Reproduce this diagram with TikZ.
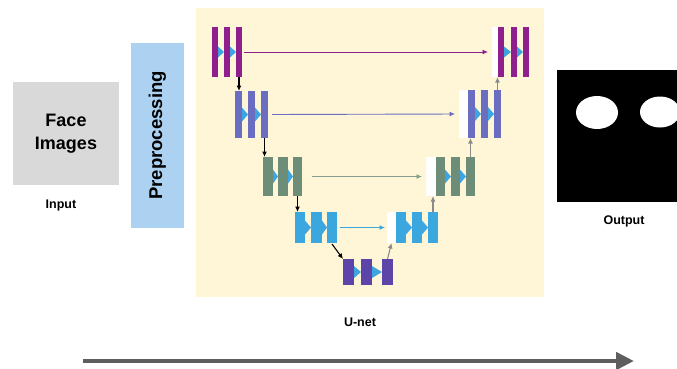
\documentclass[tikz,border=0pt]{standalone}
\usepackage{fontspec}
\setmainfont{Liberation Sans}
\usetikzlibrary{arrows.meta}

\definecolor{bgY}{HTML}{FEF6D6}
\definecolor{cP1}{HTML}{8E1F8C}
\definecolor{cL2}{HTML}{6B6DC0}
\definecolor{cL3}{HTML}{6E8D79}
\definecolor{cL4}{HTML}{3AA8DE}
\definecolor{cL5}{HTML}{5D44A8}
\definecolor{cTri}{HTML}{3FA5E0}
\definecolor{grayBox}{HTML}{D9D9D9}
\definecolor{prepBlue}{HTML}{ADD2F1}
\definecolor{upGray}{HTML}{8A8A8A}
\definecolor{bigArrow}{HTML}{5E5E5E}

\newcommand\mkbar[6]{\node[ubar,fill=#6,minimum width={(#3-#2)*1pt},minimum height={(#5-#4)*1pt}] (#1) at (#2,#4) {};}
\newcommand\mktri[3]{\fill[cTri] ([yshift=#3pt]#1.east) -- (#2.west) -- ([yshift=-#3pt]#1.east) -- cycle;}

\begin{document}
\begin{tikzpicture}[x=1pt,y=-1pt,
  ubar/.style={rectangle,inner sep=0pt,outer sep=0pt,draw=none,anchor=north west},
  skiparrow/.style={-{Latex[length=5.5pt,width=5pt]},line width=0.9pt},
  downarrow/.style={-{Latex[length=5.5pt,width=5pt]},line width=1.1pt,black},
  uparrow/.style={-{Latex[length=5.5pt,width=5pt]},line width=1.1pt,upGray},
  lbl/.style={font=\bfseries\fontsize{12.5}{14}\selectfont}]
\useasboundingbox (0,0) rectangle (677,368);

% U-net background
\node[ubar,fill=bgY,minimum width=348pt,minimum height=289pt] (unetbg) at (196,8) {};

% Input
\node[fill=grayBox,minimum width=106pt,minimum height=103pt,inner sep=0pt,align=center,
  font=\bfseries\fontsize{18}{23}\selectfont] (face) at (66,133.5) {Face\\Images};
\node[lbl] (inlbl) at (61,205) {Input};

% Preprocessing
\node[fill=prepBlue,minimum width=185pt,minimum height=53pt,inner sep=0pt,rotate=90,
  font=\bfseries\fontsize{18.5}{20}\selectfont] (prep) at (157.5,135.5) {Preprocessing};

% Output
\node[fill=black,minimum width=120pt,minimum height=132pt,inner sep=0pt] (outbox) at (617,136) {};
\begin{scope}
\clip (outbox.south west) rectangle (outbox.north east);
\fill[white] (597,112.5) ellipse [x radius=21, y radius=16.5];
\fill[white] (660,112) ellipse [x radius=20, y radius=15.5];
\end{scope}
\node[lbl] (outlbl) at (624,221) {Output};

\node[lbl] (unetlbl) at (360,322) {U-net};

% Level 1
\mkbar{L1a}{212}{218}{27}{77}{cP1}
\mkbar{L1b}{224}{230}{27}{77}{cP1}
\mkbar{L1c}{236}{242}{27}{77}{cP1}
\mktri{L1a}{L1b}{5.5}
\mktri{L1b}{L1c}{5.5}
\mkbar{L1w}{492}{498}{27}{77}{white}
\mkbar{L1r1}{498}{504}{27}{77}{cP1}
\mkbar{L1r2}{511}{517}{27}{77}{cP1}
\mkbar{L1r3}{523}{529}{27}{77}{cP1}
\mktri{L1r1}{L1r2}{5.5}
\mktri{L1r2}{L1r3}{5.5}

% Level 2
\mkbar{L2a}{235}{242}{91}{138}{cL2}
\mkbar{L2b}{248}{255}{91}{138}{cL2}
\mkbar{L2c}{261}{268}{91}{138}{cL2}
\mktri{L2a}{L2b}{7}
\mktri{L2b}{L2c}{7}
\mkbar{L2w}{459}{468}{90}{138}{white}
\mkbar{L2r1}{468}{475}{90}{138}{cL2}
\mkbar{L2r2}{481}{488}{90}{138}{cL2}
\mkbar{L2r3}{494}{501}{90}{138}{cL2}
\mktri{L2r1}{L2r2}{7}
\mktri{L2r2}{L2r3}{7}

% Level 3
\mkbar{L3a}{263}{273}{157}{196}{cL3}
\mkbar{L3b}{278}{288}{157}{196}{cL3}
\mkbar{L3c}{293}{302}{157}{196}{cL3}
\mktri{L3a}{L3b}{7}
\mktri{L3b}{L3c}{7}
\mkbar{L3w}{426}{436}{157}{196}{white}
\mkbar{L3r1}{436}{445}{157}{196}{cL3}
\mkbar{L3r2}{451}{460}{157}{196}{cL3}
\mkbar{L3r3}{466}{475}{157}{196}{cL3}
\mktri{L3r1}{L3r2}{7}
\mktri{L3r2}{L3r3}{7}

% Level 4
\mkbar{L4a}{295}{305}{212}{243}{cL4}
\mkbar{L4b}{311}{322}{212}{243}{cL4}
\mkbar{L4c}{327}{337}{212}{243}{cL4}
\mktri{L4a}{L4b}{7}
\mktri{L4b}{L4c}{7}
\mkbar{L4w}{387}{396}{212}{243}{white}
\mkbar{L4r1}{396}{406}{212}{243}{cL4}
\mkbar{L4r2}{412}{422}{212}{243}{cL4}
\mkbar{L4r3}{428}{438}{212}{243}{cL4}
\mktri{L4r1}{L4r2}{7}
\mktri{L4r2}{L4r3}{7}

% Level 5
\mkbar{L5a}{343}{354}{259}{285}{cL5}
\mkbar{L5b}{361}{372}{259}{285}{cL5}
\mkbar{L5c}{382}{393}{259}{285}{cL5}
\mktri{L5a}{L5b}{6}
\mktri{L5b}{L5c}{6}

% skip connections
\draw[skiparrow,cP1,shorten <=2pt,shorten >=4pt] (L1c.east) -- (L1w.west);
\draw[skiparrow,cL2,shorten <=4pt,shorten >=4pt] (L2c.east) -- (L2w.west);
\draw[skiparrow,cL3!85!white,shorten <=10pt,shorten >=4pt] (L3c.east) -- (L3w.west);
\draw[skiparrow,cL4,shorten <=3pt,shorten >=2pt] (L4c.east) -- (L4w.west);

% down arrows
\draw[downarrow] (L1c.south) -- (L1c.south |- L2a.north);
\draw[downarrow] (L2c.south) -- (L2c.south |- L3a.north);
\draw[downarrow] (L3c.south) -- (L3c.south |- L4a.north);
\draw[downarrow] ([yshift=-1pt]L4c.south) -- (L5a.north west);

% up arrows
\draw[uparrow] (L5c.north) -- (L4w.south);
\draw[uparrow] (L4r3.north) -- (L4r3.north |- L3w.south);
\draw[uparrow] (L3r3.north) -- (L3r3.north |- L2w.south);
\draw[uparrow] (L2r3.north) -- (L2r3.north |- L1w.south);

% big arrow
\coordinate (ba) at (83,361);
\coordinate (bb) at (634,361);
\draw[bigArrow,line width=4.5pt,-{Triangle[length=18pt,width=17pt]}] (ba) -- (bb);
\end{tikzpicture}
\end{document}
